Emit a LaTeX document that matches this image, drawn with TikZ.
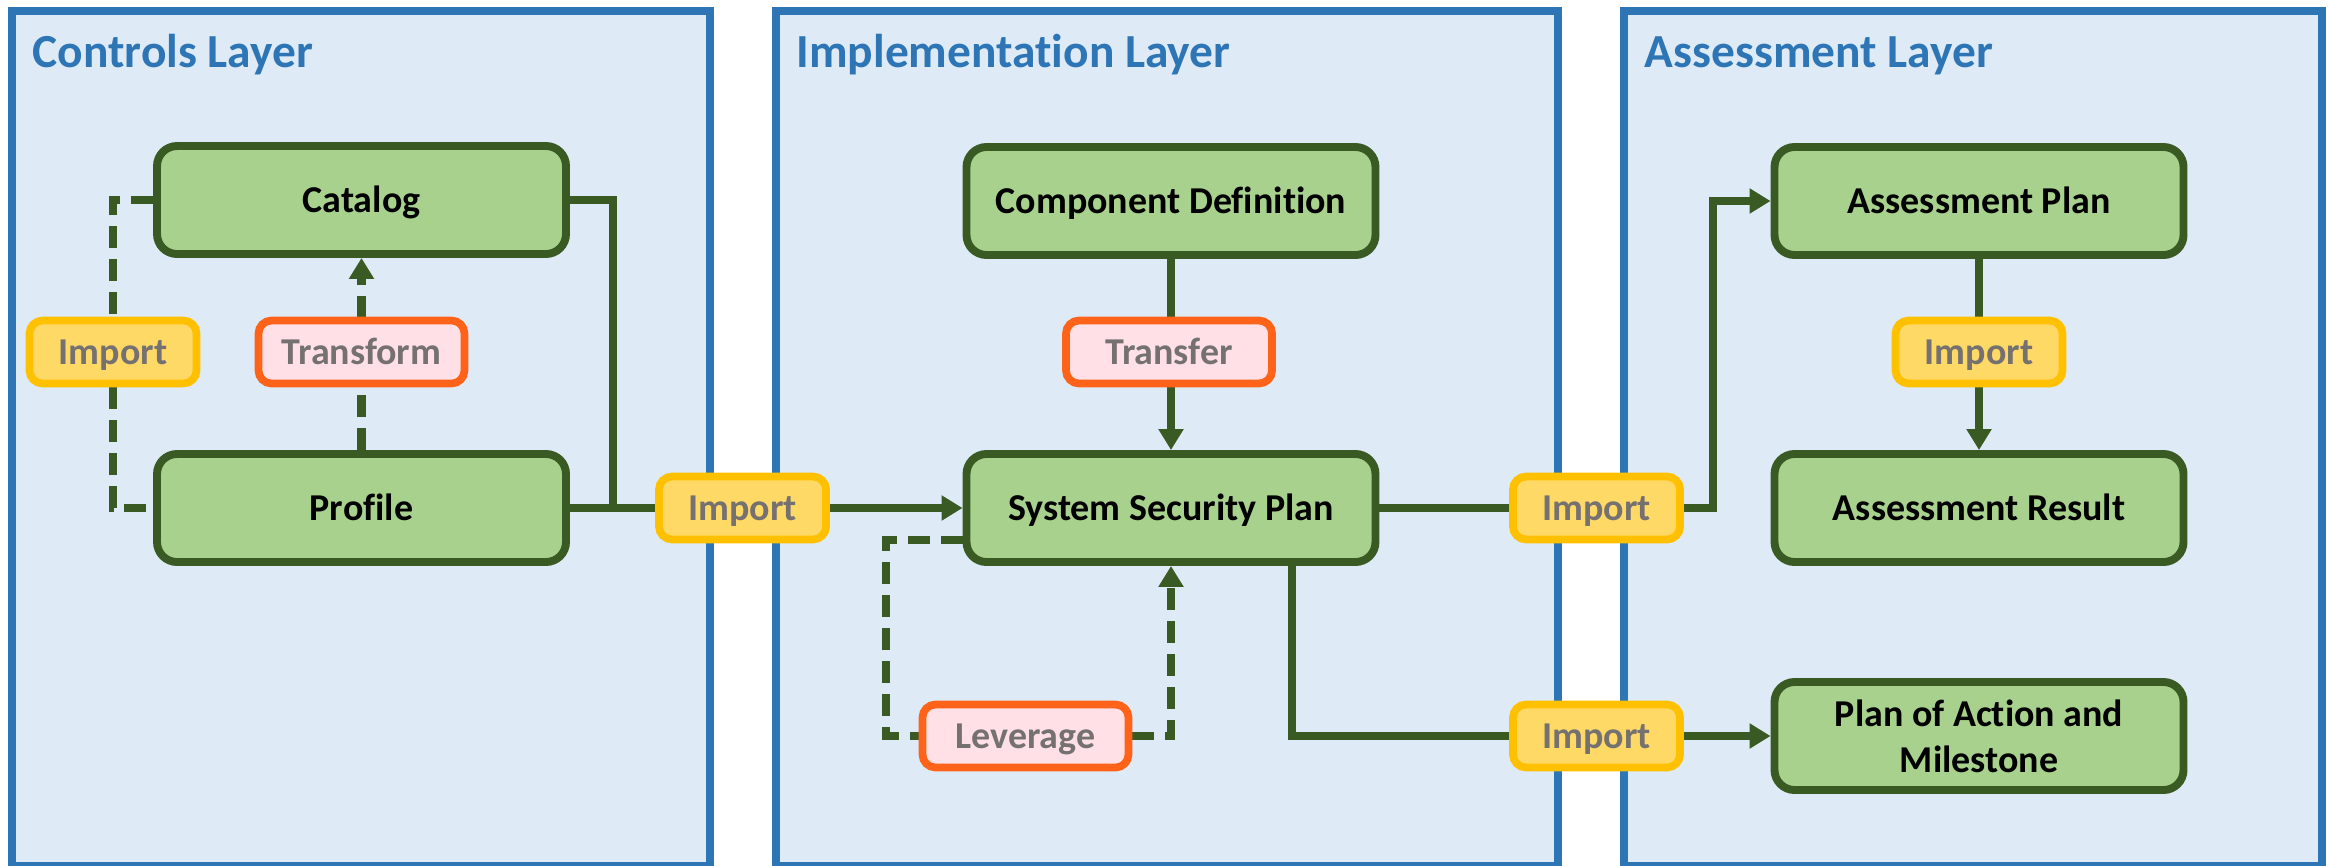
\documentclass[tikz,border=0pt]{standalone}
\usepackage{fontspec}
\setmainfont{Carlito}[Ligatures=NoCommon]
\usetikzlibrary{arrows.meta}
\definecolor{panelfill}{HTML}{DEEBF7}
\definecolor{panelline}{HTML}{2E75B6}
\definecolor{nodefill}{HTML}{A9D18E}
\definecolor{dkgreen}{HTML}{3A5A24}
\definecolor{impfill}{HTML}{FFD966}
\definecolor{impline}{HTML}{FFC000}
\definecolor{trfill}{HTML}{FFE0E6}
\definecolor{trline}{HTML}{FF6319}
\definecolor{lbltext}{HTML}{767171}
\pgfdeclarelayer{bg}
\pgfdeclarelayer{lines}
\pgfsetlayers{bg,lines,main}
\begin{document}
\begin{tikzpicture}[x=0.1mm,y=-0.1mm,
  panel/.style={draw=panelline,fill=panelfill,line width=2.2pt},
  ttl/.style={anchor=base west,inner sep=0,text=panelline,font=\bfseries\fontsize{13.5}{16}\selectfont},
  oneline/.style={text height=6.95pt,text depth=0pt},
  blkbase/.style={draw=dkgreen,fill=nodefill,line width=2.25pt,rounded corners=2mm,minimum width=40.9mm,minimum height=10.8mm,inner sep=0,align=center,font=\bfseries\fontsize{10.8}{13}\selectfont},
  blk/.style={blkbase,oneline},
  lbl/.style={oneline,line width=2.2pt,rounded corners=1.3mm,minimum height=6.3mm,inner sep=0,text=lbltext,font=\bfseries\fontsize{10.8}{13}\selectfont},
  imp/.style={lbl,draw=impline,fill=impfill,minimum width=16.7mm},
  act/.style={lbl,draw=trline,fill=trfill,minimum width=20.6mm},
  conn/.style={draw=dkgreen,line width=2.3pt},
  dsh/.style={conn,dash pattern=on 2.2mm off 1.1mm},
  arr/.style={-{Triangle[length=2.1mm,width=2.4mm]}},
]
\useasboundingbox (0,0) rectangle (2328,865);
\begin{pgfonlayer}{bg}
\draw[panel] (12,11) rectangle (710,866);
\draw[panel] (776,11) rectangle (1558,866);
\draw[panel] (1624,11) rectangle (2322,866);
\end{pgfonlayer}
\node[ttl] (t1) at (32,67) {Controls Layer};
\node[ttl] (t2) at (796,67) {Implementation Layer};
\node[ttl] (t3) at (1644,67) {Assessment Layer};

\node[blk] (cat) at (361.5,200) {Catalog};
\node[blk] (prof) at (361.5,508) {Profile};
\node[blk] (cd) at (1171,201) {Component Definition};
\node[blk] (ssp) at (1171,508) {System Security Plan};
\node[blk] (ap) at (1979,201) {Assessment Plan};
\node[blk] (ar) at (1979,508) {Assessment Result};
\node[blkbase] (poam) at (1979,736) {Plan of Action and\\Milestone};

\node[imp] (impl) at (113,352) {Import};
\node[act] (trf) at (361.5,352) {Transform};
\node[imp] (impm) at (742.5,508) {Import};
\node[act] (tra) at (1169,352) {Transfer};
\node[act] (lev) at (1025.5,736) {Leverage};
\node[imp] (impr1) at (1596.5,508) {Import};
\node[imp] (impr2) at (1596.5,736) {Import};
\node[imp] (impar) at (1979,352) {Import};

\coordinate (j1) at (613,508);
\begin{pgfonlayer}{lines}
\draw[dsh] (cat.west) -| (impl.north);
\draw[dsh] (impl.south) |- (prof.west);
\draw[dsh,arr] (prof.north) -- (cat.south);
\draw[conn] (cat.east) -| (j1);
\draw[conn] (prof.east) -- (impm.west);
\draw[conn,arr] (impm.east) -- (ssp.west);
\draw[conn,arr] (cd.south) -- (ssp.north);
\draw[dsh] ([yshift=-3.2mm]ssp.west) -| ([xshift=-3.3mm]lev.west) -- (lev.west);
\draw[dsh,arr] (lev.east) -| (ssp.south);
\draw[conn] (ssp.east) -- (impr1.west);
\draw[conn,arr] (impr1.east) -| ([xshift=-5.8mm]ap.west) -- (ap.west);
\draw[conn] ([xshift=12.1mm]ssp.south) |- (impr2.west);
\draw[conn,arr] (impr2.east) -- (poam.west);
\draw[conn,arr] (ap.south) -- (ar.north);
\end{pgfonlayer}
\end{tikzpicture}
\end{document}
